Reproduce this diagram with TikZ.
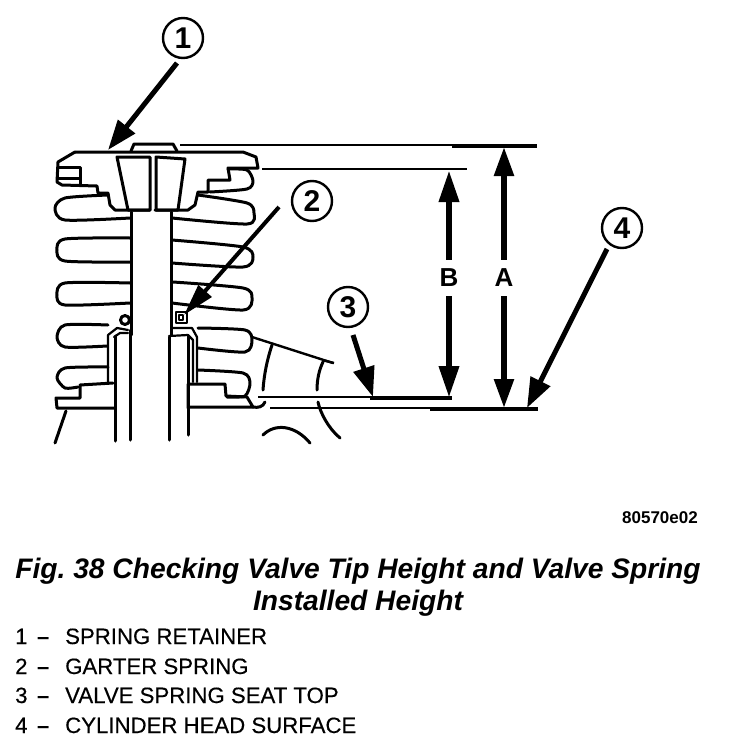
\documentclass[tikz,border=0pt]{standalone}
\usepackage{fontspec}
\setmainfont{Liberation Sans}
\newfontfamily\legendfont[FakeBold=0.35]{Liberation Sans}
\usetikzlibrary{arrows.meta}
\tikzset{
  part/.style={line width=3pt,line cap=round,line join=round,black},
  thinpart/.style={line width=2.2pt,line cap=round,line join=round,black},
  callout/.style={circle,draw,line width=2.4pt,minimum size=40pt,inner sep=0pt,font=\fontsize{30}{30}\selectfont\bfseries},
  dimlabel/.style={minimum height=36pt,inner sep=0pt,font=\fontsize{26}{26}\selectfont\bfseries},
  leader/.style={line width=5pt,-{Triangle[length=30pt,width=21pt]}},
  leaderthin/.style={line width=4pt,-{Triangle[length=32pt,width=17pt]}},
  dimB/.style={line width=6.5pt,-{Triangle[length=32pt,width=19pt]}},
  dimA/.style={line width=5.5pt,-{Triangle[length=29pt,width=19pt]}},
  legend/.style={anchor=base west,inner sep=0pt,font=\fontsize{22.2}{22.2}\selectfont\legendfont},
  legenddash/.style={anchor=base west,inner sep=0pt,font=\fontsize{22}{22}\selectfont\bfseries},
  title/.style={inner sep=0pt,font=\fontsize{28.2}{28.2}\selectfont\bfseries\itshape\frenchspacing},
  refid/.style={inner sep=0pt,font=\fontsize{17}{17}\selectfont\bfseries}
}
\begin{document}
\begin{tikzpicture}[x=1pt,y=-1pt]
\useasboundingbox (0,0) rectangle (736,744);
% retainer
\draw[part] (75,152) -- (243,152) -- (256,157) -- (258,168) -- (228,168) -- (230,180) -- (208,180) -- (208,192) -- (198,192) -- (195,205) -- (188,210) -- (155,210);
\draw[part] (75,152) -- (58,162) -- (57,182) -- (62,185) -- (97,186) -- (98,193) -- (108,193) -- (110,205) -- (115,210) -- (150,210);
\draw[part] (58,167) -- (80,167) -- (80,184);
\draw[part] (58,178) -- (80,178);
% keepers
\draw[part] (117,157) -- (150,157) -- (150,210) -- (128,210) -- cycle;
\draw[part] (156,157) -- (185,159) -- (178,210) -- (156,210) -- cycle;
% valve tip
\draw[part] (131,151) -- (134,144) -- (173,144) -- (177,151);
% extension lines
\draw[line width=2pt] (180,145) -- (452,145);
\draw[line width=3.4pt] (452,146) -- (537,146);
\draw[line width=1.6pt] (262,169) -- (467,169);
\draw[line width=2.4pt] (258,397) -- (370,397);
\draw[line width=3.6pt] (370,398) -- (452,398);
\draw[line width=2.4pt] (270,408) -- (430,408);
\draw[line width=3.6pt] (430,409) -- (538,409);
% stem
\draw[part] (131,212) -- (131,335) ;
\draw[part] (130,330) -- (130,440);
\draw[part] (171,212) -- (171,335);
\draw[part] (169,337) -- (169,440);
% coils
\draw[part] plot[smooth,tension=.45] coordinates {(228,169) (247,170) (253,181) (247,189) (210,192)};
\draw[part] plot[smooth,tension=.45] coordinates {(108,195) (65,198) (55,208) (65,220) (130,218)};
\draw[part] plot[smooth,tension=.45] coordinates {(198,195) (247,203) (254,213) (247,224) (172,218)};
\draw[part] plot[smooth,tension=.45] coordinates {(130,238) (65,239) (57,250) (65,261) (130,262)};
\draw[part] plot[smooth,tension=.45] coordinates {(172,240) (243,247) (253,257) (243,267) (172,263)};
\draw[part] plot[smooth,tension=.45] coordinates {(130,283) (65,283) (57,295) (65,305) (130,303)};
\draw[part] plot[smooth,tension=.45] coordinates {(173,282) (243,288) (252,298) (243,310) (172,303)};
\draw[part] plot[smooth,tension=.45] coordinates {(108,325) (65,325) (57,337) (65,347) (107,346)};
\draw[part] plot[smooth,tension=.45] coordinates {(198,328) (245,330) (252,340) (245,352) (198,348)};
\draw[part] plot[smooth,tension=.45] coordinates {(108,367) (65,368) (57,378) (65,388) (78,387)};
\draw[part] plot[smooth,tension=.45] coordinates {(198,370) (243,373) (250,383) (245,396) (227,397)};
% seats
\draw[part] (113,383) -- (80,385) -- (80,398) -- (56,398) -- (57,408) -- (114,408);
\draw[part] (188,408) -- (188,384) -- (225,384) -- (226,396) -- (247,397) -- (253,407) -- (188,407);
% guide and seal
\draw[part] (115,336) -- (115,441);
\draw[part] (188,336) -- (188,435);
\draw[thinpart] (108,382) -- (108,335) -- (117,328) -- (128,330);
\draw[thinpart] (114,337) -- (120,333) -- (128,333);
\draw[thinpart] (197,382) -- (197,337) -- (192,328) -- (173,328);
\draw[thinpart] (193,382) -- (193,340) -- (188,335) -- (169,336);
% garter spring
\draw[part] (125,320) circle (4.5pt);
\draw[thinpart] (176,312) rectangle (187,323);
\draw[thinpart] (179,315) rectangle (183,320);
% head
\draw[part] (66,411) -- (55,443);
\draw[line width=2.4pt] (252,337) -- (333,363);
\draw[line width=2.4pt] (322,360) -- (334,363);
\draw[part] (272,345) .. controls (267,360) and (264,375) .. (263,390);
\draw[part] (323,362) .. controls (319,370) and (317,380) .. (317,390);
\draw[part] (318,402) .. controls (320,412) and (328,428) .. (340,438);
\draw[part] (253,407) .. controls (258,408) and (263,407) .. (265,402);
\draw[part] (263,435) .. controls (275,423) and (295,425) .. (310,443);
% callouts
\node[callout] (n1) at (183,38) {1};
\node[callout] (n2) at (312,201) {2};
\node[callout] (n3) at (348,307) {3};
\node[callout] (n4) at (622,228) {4};
\coordinate (s1) at (177,63);
\coordinate (t1) at (108,150);
\coordinate (s2) at (279,207);
\coordinate (t2) at (184,315);
\coordinate (s3) at (353,335);
\coordinate (t3) at (373,397);
\coordinate (s4) at (607,249);
\coordinate (t4) at (527,408);
\draw[leader] (s1) -- (t1);
\draw[leaderthin] (s2) -- (t2);
\draw[leader] (s3) -- (t3);
\draw[leader] (s4) -- (t4);
% dimensions
\node[dimlabel] (B) at (449,278) {B};
\node[dimlabel] (A) at (504,278) {A};
\coordinate (Bt) at (449,170);
\coordinate (Bb) at (449,398);
\coordinate (At) at (504,147);
\coordinate (Ab) at (504,408);
\draw[dimB] (B) -- (Bt);
\draw[dimB] (B) -- (Bb);
\draw[dimA] (A) -- (At);
\draw[dimA] (A) -- (Ab);
% texts
\node[refid] (ref) at (660,518) {80570e02};
\node[title] (t1l) at (358,571) {Fig. 38 Checking Valve Tip Height and Valve Spring};
\node[title] (t2l) at (358,603) {Installed Height};
\node[legend] (l1n) at (15,644) {1};
\node[legenddash] (l1d) at (37,644) {–};
\node[legend] (l1) at (65,644) {SPRING RETAINER};
\node[legend] (l2n) at (15,674) {2};
\node[legenddash] (l2d) at (37,674) {–};
\node[legend] (l2) at (65,674) {GARTER SPRING};
\node[legend] (l3n) at (15,703) {3};
\node[legenddash] (l3d) at (37,703) {–};
\node[legend] (l3) at (65,703) {VALVE SPRING SEAT TOP};
\node[legend] (l4n) at (15,733) {4};
\node[legenddash] (l4d) at (37,733) {–};
\node[legend] (l4) at (65,733) {CYLINDER HEAD SURFACE};
\end{tikzpicture}
\end{document}
